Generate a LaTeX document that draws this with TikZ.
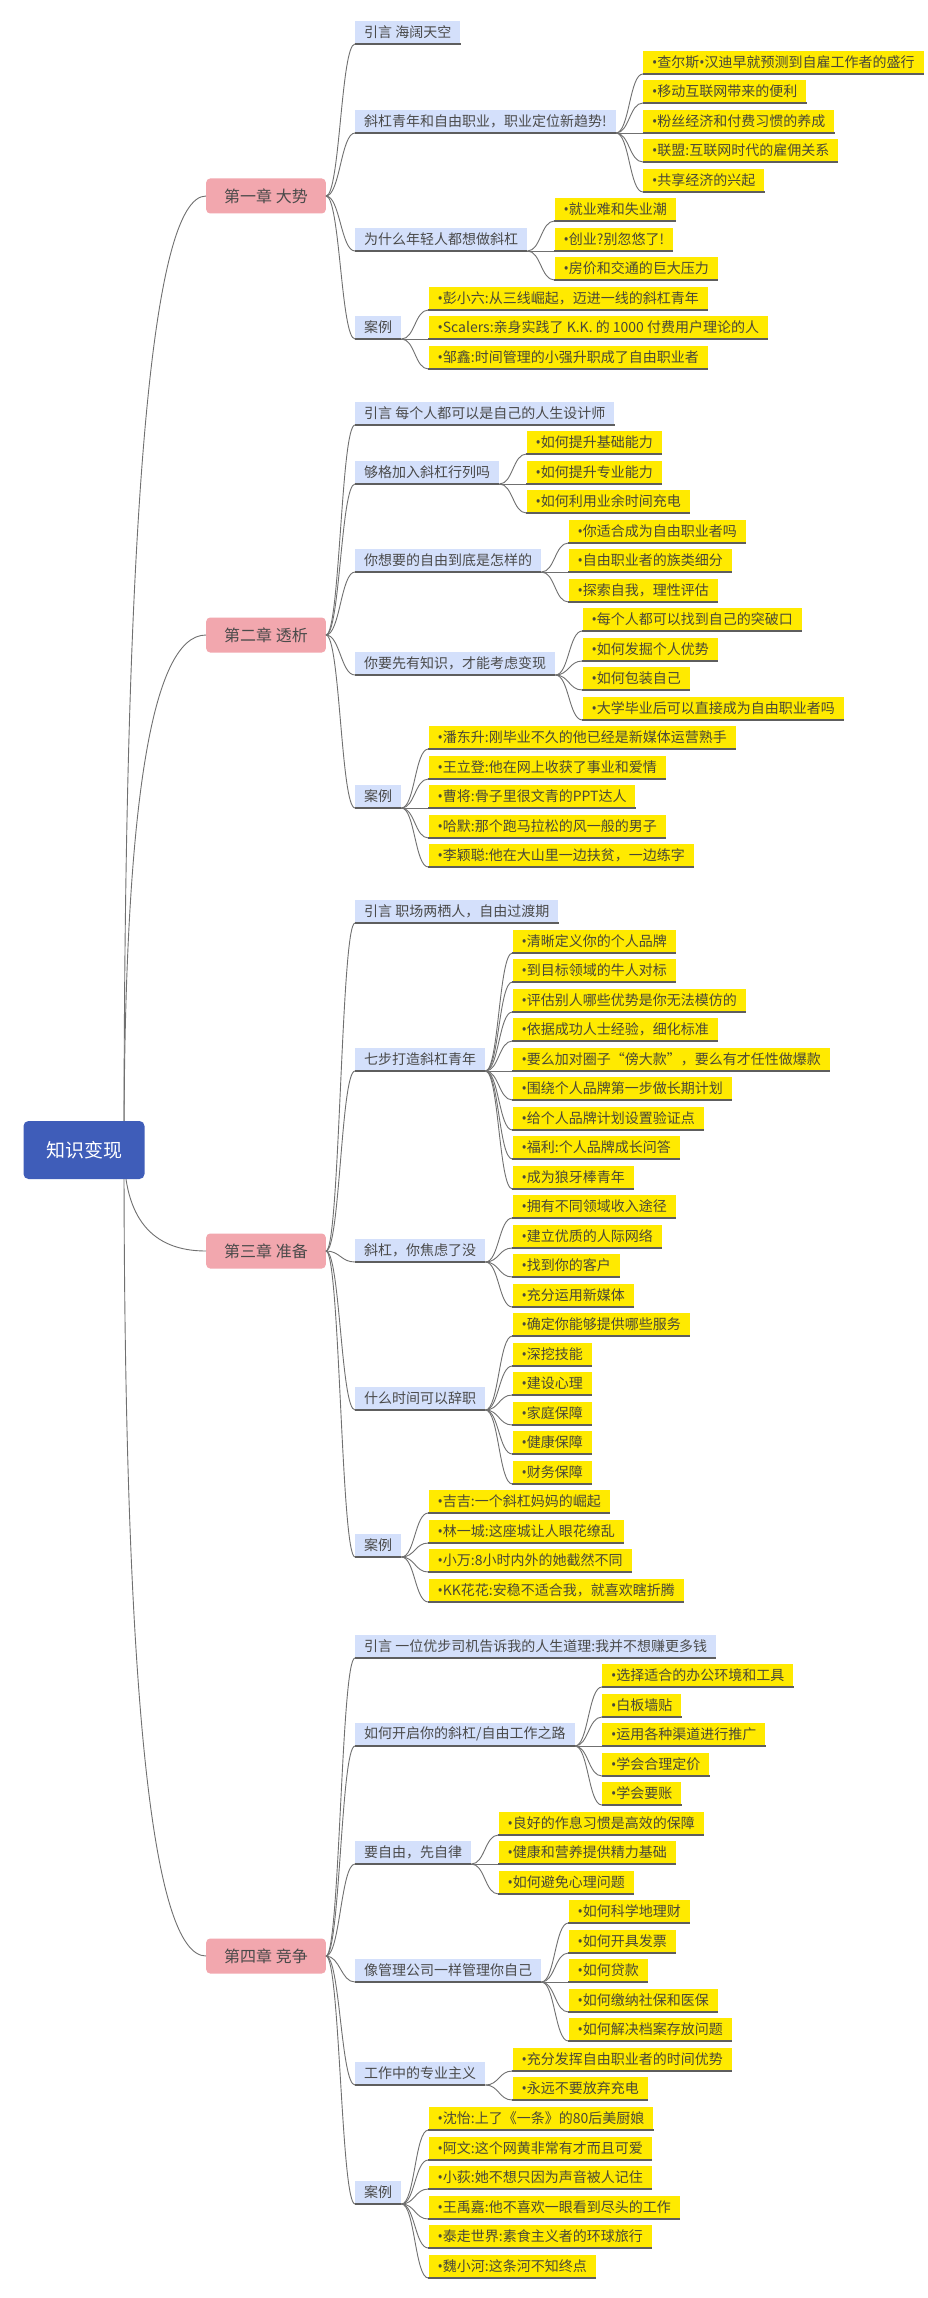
\documentclass[tikz,border=0pt]{standalone}
\usepackage{fontspec}
\setmainfont{Noto Sans CJK SC}
\newfontfamily\bulletfont{Noto Sans}
\usetikzlibrary{calc}

\definecolor{rootblue}{HTML}{3F5DB9}
\definecolor{chappink}{HTML}{F2A7AE}
\definecolor{topicblue}{HTML}{D4E0FB}
\definecolor{leafyellow}{HTML}{FFEA00}
\definecolor{inkgray}{HTML}{4A4A4A}
\definecolor{leafink}{HTML}{4A4838}
\definecolor{linegray}{HTML}{707070}
\definecolor{bargray}{HTML}{5E5E5E}

% narrow bullet
\newcommand{\dotmark}{{\bulletfont •}}
% link from the root to a chapter: a quadratic bend through the corner (rootout -| chapter)
\newcommand{\chaplink}[1]{\draw[conn] (rootout)
  .. controls ($(rootout)!0.667!(rootout |- #1.west)$) and ($(#1.west)!0.667!(rootout |- #1.west)$)
  .. (#1.west);}
% link from a chapter to one of its topics
\newcommand{\topiclink}[2]{\draw[conn] (#1.east) .. controls +(14,0) and +(-14,0) .. (#2.south west);}
% link from a topic to one of its points
\newcommand{\leaflink}[2]{\draw[conn] (#1.south east) .. controls +(13.5,0) and +(-13.5,0) .. (#2.south west);}
% topic: name, chapter, bottom y, text
\newcommand{\topic}[4]{%
  \node[topicbox] (#1) at (355,#3) {#4};
  \path ([xshift=27pt]#1.south east) coordinate (#1-r);
  \topiclink{#2}{#1}}
% point: name, topic, bottom y, text
\newcommand{\leaf}[4]{%
  \node[leafbox] (#1) at (#2-r |- 0,#3) {\dotmark#4};
  \leaflink{#2}{#1}}

\begin{document}
\begin{tikzpicture}[x=1pt,y=-1pt,
  conn/.style={draw=linegray, line width=0.9pt},
  ubar/.style={draw=bargray, line width=1.2pt},
  rootbox/.style={fill=rootblue, rounded corners=5pt, text=white,
    font=\fontsize{19}{22}\selectfont, minimum height=58pt, minimum width=121pt, inner sep=0pt},
  chapbox/.style={fill=chappink, rounded corners=4pt, text=inkgray, anchor=west,
    font=\fontsize{16}{19}\selectfont, minimum height=35pt, inner xsep=18pt, inner ysep=0pt},
  topicbox/.style={fill=topicblue, text=inkgray, anchor=south west,
    font=\fontsize{14}{16}\selectfont, minimum height=23pt, inner xsep=9pt, inner ysep=0pt,
    append after command={(\tikzlastnode.south west) edge[ubar] (\tikzlastnode.south east)}},
  leafbox/.style={fill=leafyellow, text=leafink, anchor=south west,
    font=\fontsize{14}{16}\selectfont, minimum height=23pt, inner xsep=9pt, inner ysep=0pt,
    append after command={(\tikzlastnode.south west) edge[ubar] (\tikzlastnode.south east)}}
]
\fill[white] (0,0) rectangle (928,2298);
\useasboundingbox (0,0) rectangle (928,2298);

% branch lines of the root start just inside its right end
\coordinate (rootout) at (124,1150);

% ---------- chapter 1 ----------
\node[chapbox] (ch1) at (206,196) {第一章 大势};
\chaplink{ch1}
\topic{a1}{ch1}{44}{引言 海阔天空}
\topic{a2}{ch1}{133}{斜杠青年和自由职业，职业定位新趋势!}
\leaf{a21}{a2}{74}{查尔斯\dotmark 汉迪早就预测到自雇工作者的盛行}
\leaf{a22}{a2}{103}{移动互联网带来的便利}
\leaf{a23}{a2}{133}{粉丝经济和付费习惯的养成}
\leaf{a24}{a2}{162}{联盟:互联网时代的雇佣关系}
\leaf{a25}{a2}{192}{共享经济的兴起}
\topic{a3}{ch1}{251}{为什么年轻人都想做斜杠}
\leaf{a31}{a3}{221}{就业难和失业潮}
\leaf{a32}{a3}{251}{创业?别忽悠了!}
\leaf{a33}{a3}{280}{房价和交通的巨大压力}
\topic{a4}{ch1}{339}{案例}
\leaf{a41}{a4}{310}{彭小六:从三线崛起，迈进一线的斜杠青年}
\leaf{a42}{a4}{339}{Scalers:亲身实践了 K.K. 的 1000 付费用户理论的人}
\leaf{a43}{a4}{369}{邹鑫:时间管理的小强升职成了自由职业者}

% ---------- chapter 2 ----------
\node[chapbox] (ch2) at (206,635) {第二章 透析};
\chaplink{ch2}
\topic{b1}{ch2}{425}{引言 每个人都可以是自己的人生设计师}
\topic{b2}{ch2}{484}{够格加入斜杠行列吗}
\leaf{b21}{b2}{454}{如何提升基础能力}
\leaf{b22}{b2}{484}{如何提升专业能力}
\leaf{b23}{b2}{513}{如何利用业余时间充电}
\topic{b3}{ch2}{572}{你想要的自由到底是怎样的}
\leaf{b31}{b3}{543}{你适合成为自由职业者吗}
\leaf{b32}{b3}{572}{自由职业者的族类细分}
\leaf{b33}{b3}{602}{探索自我，理性评估}
\topic{b4}{ch2}{675}{你要先有知识，才能考虑变现}
\leaf{b41}{b4}{631}{每个人都可以找到自己的突破口}
\leaf{b42}{b4}{661}{如何发掘个人优势}
\leaf{b43}{b4}{690}{如何包装自己}
\leaf{b44}{b4}{720}{大学毕业后可以直接成为自由职业者吗}
\topic{b5}{ch2}{808}{案例}
\leaf{b51}{b5}{749}{潘东升:刚毕业不久的他已经是新媒体运营熟手}
\leaf{b52}{b5}{779}{王立登:他在网上收获了事业和爱情}
\leaf{b53}{b5}{808}{曹将:骨子里很文青的PPT达人}
\leaf{b54}{b5}{838}{哈默:那个跑马拉松的风一般的男子}
\leaf{b55}{b5}{867}{李颖聪:他在大山里一边扶贫，一边练字}

% ---------- chapter 3 ----------
\node[chapbox] (ch3) at (206,1251) {第三章 准备};
\chaplink{ch3}
\topic{c1}{ch3}{923}{引言 职场两栖人，自由过渡期}
\topic{c2}{ch3}{1071}{七步打造斜杠青年}
\leaf{c21}{c2}{953}{清晰定义你的个人品牌}
\leaf{c22}{c2}{982}{到目标领域的牛人对标}
\leaf{c23}{c2}{1012}{评估别人哪些优势是你无法模仿的}
\leaf{c24}{c2}{1041}{依据成功人士经验，细化标准}
\leaf{c25}{c2}{1071}{要么加对圈子“傍大款”，要么有才任性做爆款}
\leaf{c26}{c2}{1100}{围绕个人品牌第一步做长期计划}
\leaf{c27}{c2}{1130}{给个人品牌计划设置验证点}
\leaf{c28}{c2}{1159}{福利:个人品牌成长问答}
\leaf{c29}{c2}{1189}{成为狼牙棒青年}
\topic{c3}{ch3}{1262}{斜杠，你焦虑了没}
\leaf{c31}{c3}{1218}{拥有不同领域收入途径}
\leaf{c32}{c3}{1248}{建立优质的人际网络}
\leaf{c33}{c3}{1277}{找到你的客户}
\leaf{c34}{c3}{1307}{充分运用新媒体}
\topic{c4}{ch3}{1410}{什么时间可以辞职}
\leaf{c41}{c4}{1336}{确定你能够提供哪些服务}
\leaf{c42}{c4}{1366}{深挖技能}
\leaf{c43}{c4}{1395}{建设心理}
\leaf{c44}{c4}{1425}{家庭保障}
\leaf{c45}{c4}{1454}{健康保障}
\leaf{c46}{c4}{1484}{财务保障}
\topic{c5}{ch3}{1557}{案例}
\leaf{c51}{c5}{1513}{吉吉:一个斜杠妈妈的崛起}
\leaf{c52}{c5}{1543}{林一城:这座城让人眼花缭乱}
\leaf{c53}{c5}{1572}{小万:8小时内外的她截然不同}
\leaf{c54}{c5}{1602}{KK花花:安稳不适合我，就喜欢瞎折腾}

% ---------- chapter 4 ----------
\node[chapbox] (ch4) at (206,1956) {第四章 竞争};
\chaplink{ch4}
\topic{d1}{ch4}{1658}{引言 一位优步司机告诉我的人生道理:我并不想赚更多钱}
\topic{d2}{ch4}{1746}{如何开启你的斜杠/自由工作之路}
\leaf{d21}{d2}{1687}{选择适合的办公环境和工具}
\leaf{d22}{d2}{1717}{白板墙贴}
\leaf{d23}{d2}{1746}{运用各种渠道进行推广}
\leaf{d24}{d2}{1776}{学会合理定价}
\leaf{d25}{d2}{1805}{学会要账}
\topic{d3}{ch4}{1864}{要自由，先自律}
\leaf{d31}{d3}{1835}{良好的作息习惯是高效的保障}
\leaf{d32}{d3}{1864}{健康和营养提供精力基础}
\leaf{d33}{d3}{1894}{如何避免心理问题}
\topic{d4}{ch4}{1982}{像管理公司一样管理你自己}
\leaf{d41}{d4}{1923}{如何科学地理财}
\leaf{d42}{d4}{1953}{如何开具发票}
\leaf{d43}{d4}{1982}{如何贷款}
\leaf{d44}{d4}{2012}{如何缴纳社保和医保}
\leaf{d45}{d4}{2041}{如何解决档案存放问题}
\topic{d5}{ch4}{2085}{工作中的专业主义}
\leaf{d51}{d5}{2071}{充分发挥自由职业者的时间优势}
\leaf{d52}{d5}{2100}{永远不要放弃充电}
\topic{d6}{ch4}{2204}{案例}
\leaf{d61}{d6}{2130}{沈怡:上了《一条》的80后美厨娘}
\leaf{d62}{d6}{2160}{阿文:这个网黄非常有才而且可爱}
\leaf{d63}{d6}{2189}{小荻:她不想只因为声音被人记住}
\leaf{d64}{d6}{2219}{王禹嘉:他不喜欢一眼看到尽头的工作}
\leaf{d65}{d6}{2248}{泰走世界:素食主义者的环球旅行}
\leaf{d66}{d6}{2278}{魏小河:这条河不知终点}

% root box drawn last, over the start of its branch lines
\node[rootbox] (root) at (84,1150) {知识变现};
\end{tikzpicture}
\end{document}
